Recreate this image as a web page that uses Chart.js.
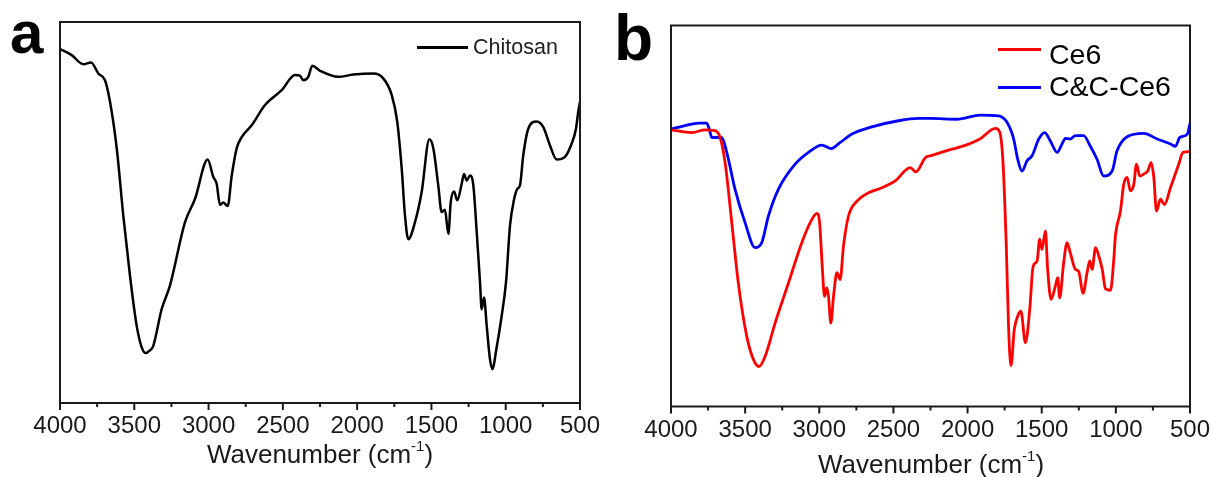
<!DOCTYPE html>
<html><head><meta charset="utf-8">
<script src="https://cdn.jsdelivr.net/npm/chart.js@4.4.1/dist/chart.umd.min.js"></script>
<style>
html,body{margin:0;padding:0;background:#fff;}
body{width:1213px;height:477px;position:relative;overflow:hidden;font-family:"Liberation Sans",Arial,sans-serif;color:#1a1a1a;}
canvas{position:absolute;top:0;}
.t{position:absolute;white-space:nowrap;}
.letter{font-weight:bold;color:#000;}
.title{font-size:26px;line-height:26px;text-align:center;}
.title sup{font-size:15px;line-height:0;position:relative;top:-2px;vertical-align:super;}
.sw{position:absolute;}
</style>
</head><body>
<canvas id="ca" width="605" height="477" style="left:0;width:605px;height:477px;"></canvas>
<canvas id="cb" width="608" height="477" style="left:605px;width:608px;height:477px;"></canvas>

<div class="t letter" style="left:10px;top:3px;font-size:60px;line-height:60px;">a</div>
<div class="t letter" style="left:614px;top:6px;font-size:64px;line-height:64px;">b</div>

<div class="t title" style="left:120px;width:400px;top:441px;">Wavenumber (cm<sup>-1</sup>)</div>
<div class="t title" style="left:731px;width:400px;top:451px;">Wavenumber (cm<sup>-1</sup>)</div>

<!-- legend a -->
<div class="sw" style="left:417px;top:46px;width:51px;height:2.5px;background:#000;"></div>
<div class="t" style="left:473px;top:36.5px;font-size:21.5px;line-height:21.5px;color:#222;">Chitosan</div>
<!-- legend b -->
<div class="sw" style="left:998px;top:47.5px;width:43px;height:3px;background:#ff0000;"></div>
<div class="t" style="left:1049px;top:40px;font-size:28.5px;line-height:28px;color:#000;">Ce6</div>
<div class="sw" style="left:998px;top:85.5px;width:43px;height:3px;background:#0000ff;"></div>
<div class="t" style="left:1049px;top:71.5px;font-size:28.5px;line-height:28px;color:#000;">C&amp;C-Ce6</div>

<script>
// ---- data (wavenumber cm-1, relative transmittance) ----
const tickValues = [4000,3750,3500,3250,3000,2750,2500,2250,2000,1750,1500,1250,1000,750,500];
const labelValues = [4000,3500,3000,2500,2000,1500,1000,500];

const chitosanWn = [4000,3921,3843,3791,3742,3697,3663,3618,3574,3529,3484,3450,3423,3395,3372,3316,3260,3159,3091,3006,2968,2946,2923,2901,2871,2844,2811,2777,2710,2620,2508,2418,2385,2362,2329,2302,2250,2127,2026,1891,1824,1767,1730,1700,1678,1656,1611,1566,1514,1487,1454,1431,1409,1386,1370,1348,1326,1296,1281,1263,1240,1218,1195,1173,1162,1146,1128,1106,1090,1061,1027,998,971,945,922,904,882,848,792,747,702,657,601,556,527,512,500];
const chitosanT = [92.9,91.3,88.9,89.4,86.5,84.7,79,66.8,49.2,33.4,20.3,14.6,13.1,13.8,15,24.6,30.8,47.4,53.6,63.9,59.3,57.6,52,52.6,51.7,59.7,66.8,69.8,72.9,78.2,82.1,86.1,85.9,84.7,85.6,88.5,87.2,85.6,86.2,86.5,85.2,80.8,73.8,61.5,49.2,43,47.4,55.3,69.2,66.8,57.1,50.1,50.7,44.4,52.7,55.5,53.2,57.6,60.1,58.4,59.7,57.1,44.8,31.7,24.6,27.7,20.3,11.5,8.9,14.6,22.9,31.7,46.6,53.2,56.2,57.1,65,72,73.9,72.4,67.6,63.9,64.6,68.1,72,76.4,79];

const ce6Wn = [4000,3860,3770,3703,3669,3635,3590,3546,3489,3444,3406,3365,3298,3208,3118,3050,3016,2999,2979,2965,2949,2938,2922,2904,2881,2859,2837,2803,2746,2668,2578,2488,2387,2348,2285,2240,2117,2027,1914,1813,1784,1761,1739,1723,1707,1685,1662,1640,1610,1581,1558,1531,1514,1498,1475,1460,1437,1408,1392,1379,1352,1329,1307,1273,1251,1221,1194,1176,1160,1137,1115,1092,1070,1036,1014,1003,969,947,924,902,879,861,839,812,785,762,744,726,699,672,632,576,547,500];
const ce6T = [72.6,71.9,72.6,72.4,70.6,64,48.2,32.4,18.4,12.3,10.5,13.2,21.9,32.4,43,49.1,50.7,48.7,36,28.9,31.1,28.9,21.9,28.9,35.1,33.3,42.1,50,53.9,56.1,57.4,59.2,62.7,61.6,65.3,65.9,67.4,68.4,70.3,73,72.1,64,42.1,20.2,10.7,20.2,23.7,25,16.7,25.4,36.8,38.2,43.9,41.2,46.1,36,28.1,31.6,33.8,28.5,37.7,43,40.3,36,35.5,29.7,35.1,38.2,36,41.7,39.5,36,30.9,30.5,38.6,44.8,51.3,58.3,60.1,56.6,58.3,63.6,60.5,61,61.8,64,60.1,51.3,54.4,53,57.4,63.6,66.7,66.9];

const ccWn = [4000,3905,3816,3759,3740,3725,3658,3624,3568,3500,3433,3388,3343,3276,3163,3073,2983,2920,2859,2780,2645,2466,2331,2252,2071,1914,1791,1734,1689,1662,1633,1599,1565,1520,1480,1442,1396,1363,1340,1307,1273,1217,1172,1127,1082,1025,992,924,812,721,632,598,569,518,500];
const ccT = [72.8,73.7,74.4,74.4,72.5,70.6,70.6,66.7,57,48.2,41.7,43,50,57,63.6,66.7,68.6,67.7,69.3,71.5,73.4,75,75.6,75.6,75.4,76.5,76.3,74.6,70.2,64.9,61.8,64.5,65.8,70.2,71.9,69.7,66.7,68.9,70.4,70.2,71.1,71.1,68.3,64.9,60.5,61.8,67.1,70.8,71.7,70.2,68.9,68.3,70.6,71.5,74.3];

// ---- helpers ----
const toXY = (xs, ys) => xs.map((x, i) => ({x: x, y: ys[i]}));

const frameTicks = {
  id: 'frameTicks',
  afterDraw(chart) {
    const ctx = chart.ctx, a = chart.chartArea, xs = chart.scales.x;
    ctx.save();
    ctx.strokeStyle = '#1a1a1a';
    ctx.lineWidth = 2;
    ctx.strokeRect(a.left, a.top, a.right - a.left, a.bottom - a.top);
    tickValues.forEach(v => {
      const px = xs.getPixelForValue(v);
      const len = labelValues.includes(v) ? 7 : 4;
      ctx.beginPath();
      ctx.moveTo(px, a.bottom);
      ctx.lineTo(px, a.bottom + len);
      ctx.stroke();
    });
    ctx.restore();
  }
};

function makeChart(id, datasets, pad, xHeight, tickPad) {
  return new Chart(document.getElementById(id), {
    type: 'line',
    data: { datasets: datasets },
    options: {
      responsive: false,
      animation: false,
      devicePixelRatio: 1,
      layout: { padding: pad },
      plugins: { legend: { display: false }, tooltip: { enabled: false } },
      elements: { point: { radius: 0 } },
      scales: {
        x: {
          type: 'linear',
          reverse: true,
          min: 500, max: 4000,
          grid: { display: false, drawTicks: false },
          border: { display: false },
          afterFit: s => { s.height = xHeight; s.paddingLeft = 0; s.paddingRight = 0; },
          afterBuildTicks: s => { s.ticks = labelValues.map(v => ({value: v})); },
          ticks: {
            autoSkip: false, maxRotation: 0, padding: tickPad,
            color: '#1a1a1a',
            font: { family: '"Liberation Sans", Arial, sans-serif', size: 24 },
            callback: v => String(v)
          }
        },
        y: { type: 'linear', min: 0, max: 100, display: false }
      }
    },
    plugins: [frameTicks]
  });
}

makeChart('ca', [
  { label: 'Chitosan', data: toXY(chitosanWn, chitosanT), borderColor: '#000', borderWidth: 2.5,
    cubicInterpolationMode: 'monotone', fill: false }
], { left: 60, right: 25, top: 22, bottom: 0 }, 74, 9);

makeChart('cb', [
  { label: 'Ce6', data: toXY(ce6Wn, ce6T), borderColor: '#ff0000', borderWidth: 2.8,
    cubicInterpolationMode: 'monotone', fill: false },
  { label: 'C&C-Ce6', data: toXY(ccWn, ccT), borderColor: '#0000ff', borderWidth: 2.8,
    cubicInterpolationMode: 'monotone', fill: false }
], { left: 66, right: 23, top: 25.5, bottom: 0 }, 70.5, 9.5);
</script>
</body></html>
